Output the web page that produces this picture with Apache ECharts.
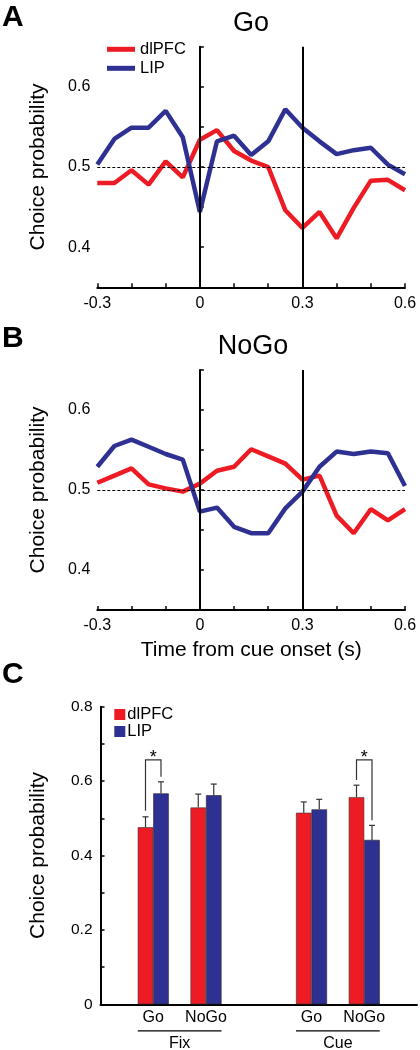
<!DOCTYPE html>
<html><head><meta charset="utf-8">
<script src="https://cdn.jsdelivr.net/npm/echarts@6/dist/echarts.min.js"></script>
<style>html,body{margin:0;padding:0;background:#fff}#c{width:420px;height:1050px}</style>
</head><body><div id="c"></div>
<script>
// ---- data ----
const timeBins = [-0.3,-0.25,-0.2,-0.15,-0.1,-0.05,0,0.05,0.1,0.15,0.2,0.25,0.3,0.35,0.4,0.45,0.5,0.55,0.6];
const goDlpfc = [0.480,0.480,0.496,0.478,0.507,0.487,0.534,0.546,0.520,0.508,0.500,0.446,0.424,0.444,0.411,0.449,0.483,0.484,0.471];
const goLip   = [0.503,0.535,0.549,0.549,0.570,0.537,0.444,0.532,0.539,0.515,0.532,0.572,0.549,0.532,0.516,0.521,0.524,0.503,0.491];
const nogoDlpfc = [0.509,0.518,0.527,0.507,0.502,0.498,0.508,0.524,0.529,0.551,0.542,0.533,0.513,0.518,0.468,0.446,0.476,0.462,0.476];
const nogoLip   = [0.529,0.555,0.563,0.554,0.545,0.538,0.473,0.478,0.454,0.446,0.446,0.477,0.498,0.529,0.548,0.545,0.548,0.546,0.505];
const eventLines = [0, 0.3];
const chanceLevel = 0.5;

const barSlots   = ['pre','FixGo','FixNoGo','gap','CueGo','CueNoGo','post'];
const slotLabels = ['', 'Go', 'NoGo', '', 'Go', 'NoGo', ''];
const barDlpfc   = ['-', 0.476, 0.529, '-', 0.515, 0.557, '-'];
const barLip     = ['-', 0.567, 0.562, '-', 0.524, 0.442, '-'];
const errDlpfc   = ['-', 0.504, 0.565, '-', 0.544, 0.589, '-'];
const errLip     = ['-', 0.598, 0.592, '-', 0.551, 0.481, '-'];
const groups = [ {name:'Fix', from:1, to:2}, {name:'Cue', from:4, to:5} ];
// significance: slot, dlPFC-side low end, LIP-side low end, bracket top
const sigBrackets = [ [1, 0.520, 0.612, 0.657], [5, 0.603, 0.495, 0.657] ];

const RED = '#ED1C24', BLUE = '#2E3192';
const FONT = '"Liberation Sans", Arial, sans-serif';
const pair = (xs, ys) => xs.map((x,i)=>[x, ys[i]]);

const chart = echarts.init(document.getElementById('c'), null, {renderer:'canvas'});

function timeAxis(gi, withName){
  return {
    type:'value', gridIndex:gi, min:-0.3, max:0.6, interval:0.1,
    axisLine:{show:true, onZero:false, lineStyle:{color:'#000', width:2}},
    axisTick:{show:true, inside:true, length:4, lineStyle:{color:'#000', width:1.5}},
    splitLine:{show:false},
    axisLabel:{color:'#000', fontSize:16, fontFamily:FONT, margin:8,
      formatter:v=>{const k=Math.round(v*10); return k%3===0 ? (k===0?'0':(k/10).toString()) : '';}},
    name: withName ? 'Time from cue onset (s)' : '',
    nameLocation:'middle', nameGap:30,
    nameTextStyle:{color:'#000', fontSize:21, fontFamily:FONT}
  };
}
function probAxis(gi){
  return {
    type:'value', gridIndex:gi, min:0.35, max:0.65, interval:0.05,
    axisLine:{show:true, lineStyle:{color:'#000', width:2}},
    axisTick:{show:true, inside:true, length:4, lineStyle:{color:'#000', width:1.5}},
    splitLine:{show:false},
    axisLabel:{color:'#000', fontSize:16, fontFamily:FONT, margin:7,
      formatter:v=>{const k=Math.round(v*100); return k%10===0 ? (k/100).toFixed(1) : '';}},
    name:'Choice probability', nameLocation:'middle', nameRotate:90, nameGap:49,
    nameTextStyle:{color:'#000', fontSize:21, fontFamily:FONT}
  };
}
const refLines = {
  silent:true, symbol:['none','none'], animation:false, label:{show:false},
  data: [
    ...eventLines.map(x=>({xAxis:x, lineStyle:{color:'#000', width:2, type:'solid'}})),
    {yAxis:chanceLevel, lineStyle:{color:'#000', width:1, type:[3,2]}}
  ]
};
function lineSeries(name, gi, ys, color, withRef){
  const s = {type:'line', name, xAxisIndex:gi, yAxisIndex:gi, data:pair(timeBins, ys),
    symbol:'none', lineStyle:{color, width:4.5}, itemStyle:{color}, animation:false};
  if (withRef) s.markLine = refLines;
  return s;
}

const option = {
  animation:false,
  textStyle:{fontFamily:FONT},
  grid:[
    {left:97.3, top:46.7, width:307.7, height:240.6},
    {left:97.3, top:370, width:307.7, height:240},
    {left:100.5, top:706.7, width:321, height:297.6}
  ],
  legend:[
    {data:['dlPFC','LIP'], orient:'vertical', left:107, top:40.8, padding:0, icon:'rect',
     itemWidth:28, itemHeight:5, itemGap:2, selectedMode:false,
     textStyle:{color:'#000', fontSize:16.5, lineHeight:17, fontFamily:FONT}},
    {data:['dlPFC','LIP'], orient:'vertical', left:114.3, top:706, padding:0, icon:'rect',
     itemWidth:11, itemHeight:11, itemGap:0, selectedMode:false,
     textStyle:{color:'#000', fontSize:16.5, lineHeight:14, fontFamily:FONT, padding:[0,0,0,-3]}}
  ],
  xAxis:[
    timeAxis(0,false), timeAxis(1,true),
    {type:'category', gridIndex:2, data:barSlots, boundaryGap:false,
     axisLine:{show:true, lineStyle:{color:'#000', width:2}},
     axisTick:{show:false},
     axisLabel:{color:'#000', fontSize:16, fontFamily:FONT, margin:5, interval:0,
       formatter:(v,i)=>slotLabels[i]}}
  ],
  yAxis:[
    probAxis(0), probAxis(1),
    {type:'value', gridIndex:2, min:0, max:0.8, interval:0.1,
     axisLine:{show:true, lineStyle:{color:'#000', width:2}},
     axisTick:{show:true, inside:true, length:4, lineStyle:{color:'#000', width:1.5}},
     splitLine:{show:false},
     axisLabel:{color:'#000', fontSize:15.5, fontFamily:FONT, margin:8,
       formatter:v=>{const k=Math.round(v*10); return k%2===0 ? (k===0?'0':(k/10).toFixed(1)) : '';}},
     name:'Choice probability', nameLocation:'middle', nameRotate:90, nameGap:52,
     nameTextStyle:{color:'#000', fontSize:21, fontFamily:FONT}}
  ],
  series:[
    lineSeries('dlPFC', 0, goDlpfc, RED, false),
    lineSeries('LIP', 0, goLip, BLUE, true),
    lineSeries('dlPFC', 1, nogoDlpfc, RED, false),
    lineSeries('LIP', 1, nogoLip, BLUE, true),
    {type:'bar', name:'dlPFC', xAxisIndex:2, yAxisIndex:2, data:barDlpfc, barWidth:15.5, barGap:'0%',
     itemStyle:{color:RED, borderColor:'#333', borderWidth:0.6}},
    {type:'bar', name:'LIP', xAxisIndex:2, yAxisIndex:2, data:barLip, barWidth:15.5, barGap:'0%',
     itemStyle:{color:BLUE, borderColor:'#222', borderWidth:0.6}},
    // error bars
    {type:'custom', xAxisIndex:2, yAxisIndex:2, silent:true, z:3,
     data: barSlots.flatMap((s,i)=> barDlpfc[i]==='-' ? [] : [[i, barDlpfc[i], errDlpfc[i], -1],[i, barLip[i], errLip[i], 1]]),
     encode:{x:0, y:[1,2]},
     renderItem:(params, api)=>{
       const i=api.value(0), side=api.value(3);
       const p1=api.coord([i, api.value(1)]), p2=api.coord([i, api.value(2)]);
       const x=p1[0]+side*7.75;
       const st={stroke:'#333', lineWidth:1.2};
       return {type:'group', children:[
         {type:'line', shape:{x1:x, y1:p1[1], x2:x, y2:p2[1]}, style:st},
         {type:'line', shape:{x1:x-3, y1:p2[1], x2:x+3, y2:p2[1]}, style:st}
       ]};
     }},
    // significance brackets
    {type:'custom', xAxisIndex:2, yAxisIndex:2, silent:true, z:3, clip:false,
     data: sigBrackets, encode:{x:0, y:[1,2,3]},
     renderItem:(params, api)=>{
       const i=api.value(0);
       const a=api.coord([i, api.value(1)]), b=api.coord([i, api.value(2)]), t=api.coord([i, api.value(3)]);
       const xl=a[0]-7.75, xr=a[0]+7.75;
       return {type:'group', children:[
         {type:'polyline', shape:{points:[[xl,a[1]],[xl,t[1]],[xr,t[1]],[xr,b[1]]]}, style:{stroke:'#333', lineWidth:1.2, fill:null}},
         {type:'text', style:{text:'*', x:a[0], y:t[1]-2, textAlign:'center', textVerticalAlign:'middle', font:'18px '+FONT, fill:'#000'}}
       ]};
     }},
    // group labels under the category labels
    {type:'custom', xAxisIndex:2, yAxisIndex:2, silent:true, clip:false,
     data: groups.map(g=>[g.from, g.to, 0, g.name]), encode:{x:[0,1], y:2},
     renderItem:(params, api)=>{
       const a=api.coord([api.value(0), 0]), b=api.coord([api.value(1), 0]);
       const name=groups[params.dataIndex].name;
       const y=a[1]+26.5;
       return {type:'group', children:[
         {type:'line', shape:{x1:a[0]-15.5, y1:y, x2:b[0]+15.5, y2:y}, style:{stroke:'#000', lineWidth:1.3}},
         {type:'text', style:{text:name, x:(a[0]+b[0])/2, y:y+13, textAlign:'center', textVerticalAlign:'middle', font:'16px '+FONT, fill:'#000'}}
       ]};
     }}
  ],
  graphic:[
    {type:'text', style:{text:'A', x:2, y:18, textVerticalAlign:'middle', font:'bold 30px '+FONT, fill:'#000'}},
    {type:'text', style:{text:'B', x:2, y:339, textVerticalAlign:'middle', font:'bold 30px '+FONT, fill:'#000'}},
    {type:'text', style:{text:'C', x:2, y:675, textVerticalAlign:'middle', font:'bold 30px '+FONT, fill:'#000'}},
    {type:'text', style:{text:'Go', x:251, y:24, textAlign:'center', textVerticalAlign:'middle', font:'27px '+FONT, fill:'#000'}},
    {type:'text', style:{text:'NoGo', x:253, y:346.5, textAlign:'center', textVerticalAlign:'middle', font:'27px '+FONT, fill:'#000'}}
  ]
};
chart.setOption(option);
</script>
</body></html>
